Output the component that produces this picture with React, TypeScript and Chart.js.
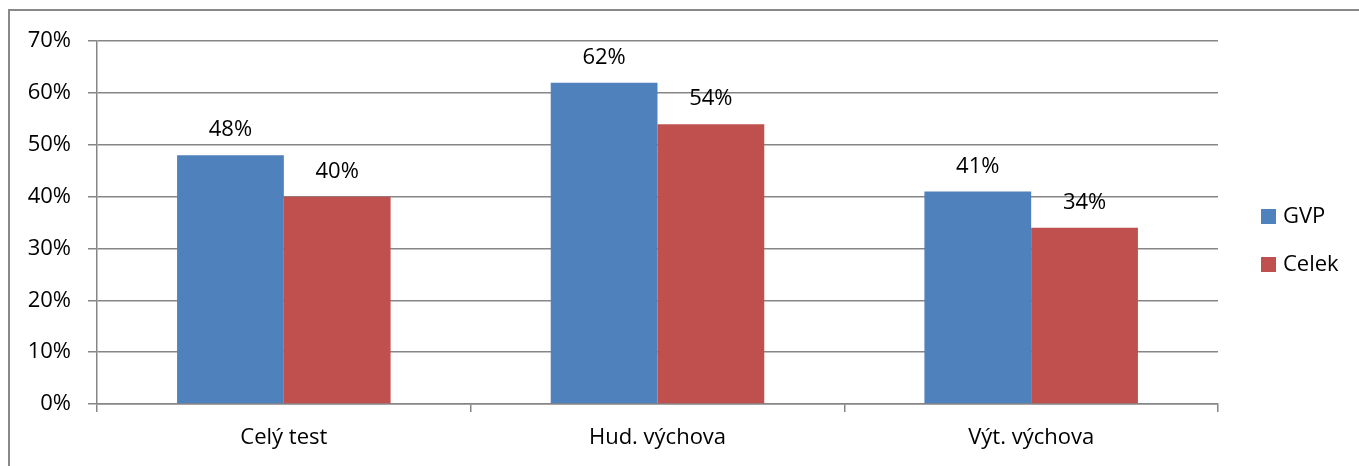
import React, { useEffect, useRef } from "react";
import { Chart, registerables } from "chart.js";

Chart.register(...registerables);

const categories = ["Celý test", "Hud. výchova", "Výt. výchova"];
const gvpValues = [48, 62, 41];
const celekValues = [40, 54, 34];
const seriesNames = ["GVP", "Celek"];
const seriesColors = ["#4F81BD", "#C0504D"];
const yTicks = [0, 10, 20, 30, 40, 50, 60, 70];

const FONT = "'Open Sans', sans-serif";
const FONT_SIZE = 22;
const LINE = "#868686";

const valueLabels = {
  id: "valueLabels",
  afterDatasetsDraw(chart: any) {
    const ctx = chart.ctx;
    ctx.save();
    ctx.font = `${FONT_SIZE}px ${FONT}`;
    ctx.fillStyle = "#000";
    ctx.textAlign = "center";
    ctx.textBaseline = "alphabetic";
    chart.data.datasets.forEach((ds: any, i: number) => {
      const meta = chart.getDatasetMeta(i);
      meta.data.forEach((bar: any, j: number) => {
        ctx.fillText(`${ds.data[j]}%`, bar.x, bar.y - 19);
      });
    });
    ctx.restore();
  },
};

const customLegend = {
  id: "customLegend",
  afterDraw(chart: any) {
    const ctx = chart.ctx;
    ctx.save();
    ctx.font = `${FONT_SIZE}px ${FONT}`;
    ctx.textAlign = "left";
    ctx.textBaseline = "middle";
    const x0 = chart.chartArea.right + 43;
    const y0 = 198;
    seriesNames.forEach((name, i) => {
      const y = y0 + i * 48;
      ctx.fillStyle = seriesColors[i];
      ctx.fillRect(x0, y, 15, 15);
      ctx.fillStyle = "#000";
      ctx.fillText(name, x0 + 22, y + 8);
    });
    ctx.restore();
  },
};

export default function App() {
  const ref = useRef<HTMLCanvasElement>(null);
  useEffect(() => {
    if (!ref.current) return;
    const chart = new Chart(ref.current, {
      type: "bar",
      data: {
        labels: categories,
        datasets: [
          {
            label: seriesNames[0],
            data: gvpValues,
            backgroundColor: seriesColors[0],
            barPercentage: 1,
            categoryPercentage: 2 / 3.5,
          },
          {
            label: seriesNames[1],
            data: celekValues,
            backgroundColor: seriesColors[1],
            barPercentage: 1,
            categoryPercentage: 2 / 3.5,
          },
        ],
      },
      options: {
        animation: false,
        responsive: false,
        maintainAspectRatio: false,
        layout: { padding: { left: 0, right: 141, top: 29, bottom: 0 } },
        plugins: {
          legend: { display: false },
          tooltip: { enabled: false },
        },
        scales: {
          x: {
            grid: {
              offset: true,
              drawOnChartArea: false,
              drawTicks: true,
              tickLength: 8,
              color: LINE,
              lineWidth: 1.5,
            },
            border: { color: LINE, width: 1.5 },
            ticks: {
              color: "#000",
              font: { family: FONT, size: FONT_SIZE },
              padding: 13,
              maxRotation: 0,
            },
            afterFit(scale: any) {
              scale.height = 62;
            },
          },
          y: {
            min: 0,
            max: 70,
            afterBuildTicks(scale: any) {
              scale.ticks = yTicks.map((v) => ({ value: v }));
            },
            grid: {
              color: LINE,
              lineWidth: 1.5,
              tickLength: 9,
            },
            border: { color: LINE, width: 1.5 },
            ticks: {
              color: "#000",
              font: { family: FONT, size: FONT_SIZE },
              padding: 17,
              callback: (v: any) => `${v}%`,
            },
            afterFit(scale: any) {
              scale.width = 87;
            },
          },
        },
      },
      plugins: [valueLabels, customLegend],
    });
    return () => chart.destroy();
  }, []);

  return (
    <div
      style={{
        position: "absolute",
        left: 8,
        top: 9,
        width: 1351,
        height: 457,
        borderLeft: "2px solid #898989",
        borderTop: "2px solid #898989",
        background: "#fff",
        overflow: "hidden",
      }}
    >
      <canvas ref={ref} width={1349} height={455} style={{ display: "block" }} />
    </div>
  );
}
